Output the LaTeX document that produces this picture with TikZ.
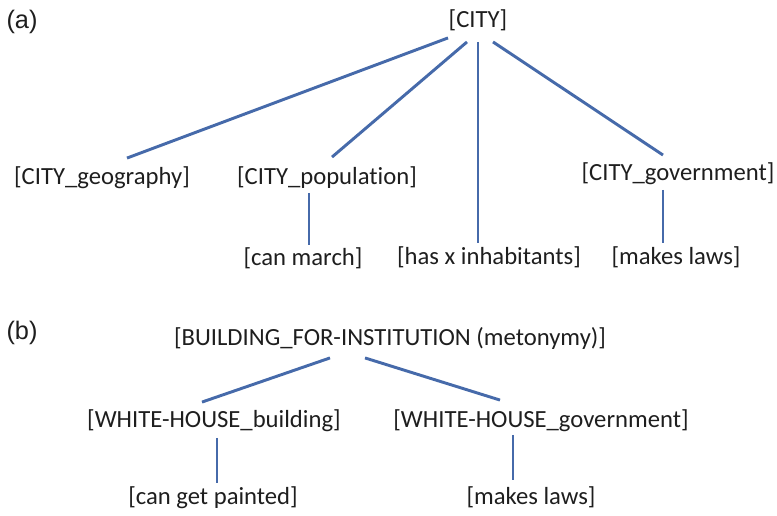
\documentclass[tikz,border=0pt]{standalone}
\usepackage{fontspec}
\setmainfont{Carlito}[Ligatures=NoCommon]
\newfontfamily\tagfont{Liberation Sans}
\usepackage{xcolor}
\definecolor{lblue}{RGB}{70,106,170}
\definecolor{tgray}{RGB}{30,30,30}
\usepackage{tikz}
\usetikzlibrary{positioning,calc}

\begin{document}
\begin{tikzpicture}[
  x=0.75pt,y=-0.75pt,
  frame/.style={inner sep=0pt,text height=0.75em,text depth=0.25em,text=tgray,font=\fontsize{18.5}{22}\selectfont},
  tag/.style={inner sep=0pt,text=tgray,font=\tagfont\fontsize{19}{22}\selectfont},
  link/.style={draw=lblue,line width=2.2pt}
]
  \useasboundingbox (0,0) rectangle (777,516);

  % (a)
  \node[tag] (taga) at (22,22) {(a)};
  \node[frame] (city) at (478,24) {[CITY]};
  \node[frame] (geo) at (102,181) {[CITY\_geography]};
  \node[frame] (pop) at (327,181) {[CITY\_population]};
  \node[frame] (gov) at (678,177) {[CITY\_government]};
  \node[frame] (march) at (303,262) {[can march]};
  \node[frame] (inhab) at (489,261) {[has x inhabitants]};
  \node[frame] (lawsa) at (676,261) {[makes laws]};

  % (b)
  \node[tag] (tagb) at (22,333) {(b)};
  \node[frame] (bfi) at (390,342) {[BUILDING\_FOR-INSTITUTION (metonymy)]};
  \node[frame] (whb) at (214,424) {[WHITE-HOUSE\_building]};
  \node[frame] (whg) at (541,424) {[WHITE-HOUSE\_government]};
  \node[frame] (paint) at (213,501) {[can get painted]};
  \node[frame] (lawsb) at (531,501) {[makes laws]};

  % Links (a)
  \draw[link] ($(city.south)+(-30,7)$) -- ($(geo.north)+(25,-16)$);
  \draw[link] ($(city.south)+(-11,11)$) -- ($(pop.north)+(5,-17)$);
  \draw[link] ($(city.south)+(0,11)$) -- ($(inhab.north)+(-11,-11)$);
  \draw[link] ($(city.south)+(15,11)$) -- ($(gov.north)+(-15,-15)$);
  \draw[link] ($(pop.south)+(-18,5)$) -- ($(march.north)+(6,-10)$);
  \draw[link] ($(gov.south)+(-15,6)$) -- ($(lawsa.north)+(-13,-11)$);

  % Links (b)
  \draw[link] ($(bfi.south)+(-60,9)$) -- ($(whb.north)+(-12,-15)$);
  \draw[link] ($(bfi.south)+(-25,9)$) -- ($(whg.north)+(-41,-17)$);
  \draw[link] ($(whb.south)+(3,7)$) -- ($(paint.north)+(4,-11)$);
  \draw[link] ($(whg.south)+(-28,4)$) -- ($(lawsb.north)+(-18,-14)$);
\end{tikzpicture}
\end{document}
